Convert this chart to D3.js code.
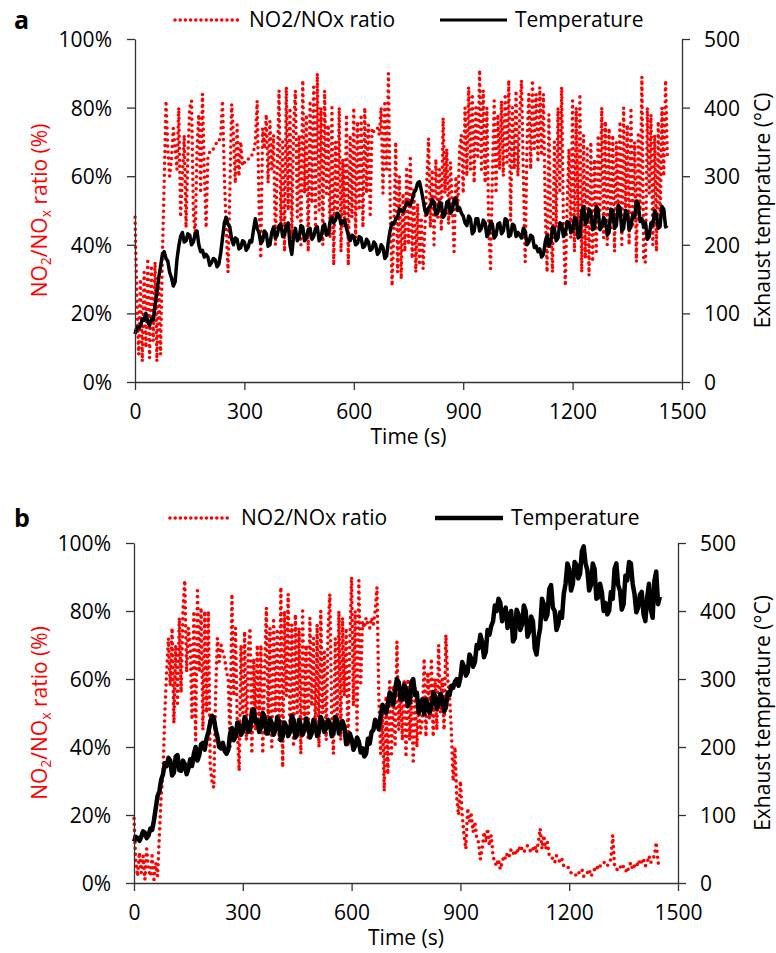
<!DOCTYPE html>
<html>
<head>
<meta charset="utf-8">
<script src="https://cdn.jsdelivr.net/npm/d3@7"></script>
<style>
  body { margin: 0; background: #fff; }
  svg text { font-family: "Open Sans", sans-serif; }
</style>
</head>
<body>
<svg id="chart" width="776" height="953"></svg>
<script>
// both series sampled every 5 s
const STEP = 5;

const timeTicks = [0, 300, 600, 900, 1200, 1500];
const ratioTicks = [0, 20, 40, 60, 80, 100];
const tempTicks = [0, 100, 200, 300, 400, 500];

// panel a: NO2/NOx ratio (%)
const ratioA = [
  48, 25, 8, 30, 6, 32, 10, 36, 7, 34,
  12, 35, 6, 30, 8, 36, 58, 82, 68, 60,
  65, 74, 68, 62, 80, 48, 60, 72, 45, 66,
  80, 82, 50, 42, 68, 78, 55, 84, 62, 45,
  66, 67, 67, 68, 69, 70, 70, 72, 82, 60,
  45, 32, 55, 81, 72, 58, 75, 60, 70, 63,
  64, 64, 65, 65, 66, 67, 70, 82, 52, 36,
  74, 68, 78, 58, 76, 62, 72, 40, 62, 85,
  45, 70, 38, 86, 50, 80, 42, 75, 85, 48,
  72, 40, 88, 55, 78, 38, 82, 52, 86, 45,
  90, 50, 80, 40, 85, 55, 75, 42, 80, 34,
  70, 48, 80, 38, 65, 45, 78, 34, 72, 48,
  80, 42, 76, 50, 78, 45, 80, 55, 75, 48,
  74, 73, 73, 74, 72, 80, 55, 82, 62, 90,
  50, 28, 45, 70, 32, 60, 30, 55, 38, 62,
  40, 66, 36, 56, 32, 52, 34, 48, 33, 45,
  58, 71, 45, 62, 40, 65, 48, 62, 44, 77,
  55, 68, 46, 64, 52, 38, 60, 50, 68, 72,
  55, 80, 60, 86, 62, 84, 58, 80, 65, 91,
  62, 85, 58, 80, 45, 33, 60, 82, 55, 78,
  62, 82, 60, 84, 64, 88, 47, 80, 62, 85,
  60, 78, 88, 60, 35, 70, 84, 62, 88, 68,
  84, 64, 86, 66, 84, 50, 32, 78, 45, 32,
  70, 45, 80, 55, 86, 45, 28, 52, 68, 42,
  82, 38, 80, 45, 84, 32, 72, 36, 68, 31,
  70, 35, 65, 38, 72, 50, 80, 42, 76, 40,
  74, 45, 72, 38, 70, 50, 76, 40, 80, 48,
  75, 40, 80, 45, 70, 35, 72, 50, 89, 35,
  35, 80, 55, 78, 40, 72, 38, 76, 45, 80,
  60, 88, 65
];
// panel a: exhaust temperature (°C)
const tempA = [
  70, 80, 78, 82, 92, 90, 100, 88, 82, 92, 90, 112, 130, 152, 168, 186, 190, 180, 176, 160,
  152, 140, 146, 178, 198, 212, 218, 204, 206, 216, 214, 200, 204, 216, 220, 200, 190, 192, 182, 186,
  182, 170, 174, 180, 178, 168, 172, 188, 210, 232, 240, 230, 226, 208, 200, 210, 208, 194, 196, 206,
  204, 192, 196, 206, 204, 222, 238, 224, 218, 202, 206, 220, 216, 198, 200, 218, 226, 210, 214, 228,
  230, 212, 214, 228, 232, 200, 186, 214, 224, 206, 210, 228, 226, 206, 210, 222, 224, 208, 212, 224,
  226, 206, 210, 226, 230, 214, 216, 234, 240, 232, 236, 246, 242, 230, 234, 236, 224, 214, 206, 214,
  212, 200, 202, 212, 210, 196, 198, 208, 204, 192, 194, 204, 200, 186, 190, 200, 196, 180, 184, 206,
  222, 232, 230, 238, 240, 252, 250, 248, 254, 262, 260, 258, 266, 276, 280, 290, 292, 280, 266, 250,
  244, 254, 256, 266, 262, 244, 246, 262, 260, 240, 244, 262, 264, 246, 250, 266, 268, 250, 254, 246,
  242, 232, 228, 242, 238, 216, 220, 238, 238, 220, 224, 236, 232, 212, 216, 234, 230, 210, 214, 230,
  232, 216, 220, 238, 236, 212, 214, 230, 228, 212, 218, 214, 210, 224, 220, 200, 204, 214, 212, 196,
  198, 190, 194, 182, 186, 204, 214, 198, 204, 226, 224, 206, 210, 232, 230, 212, 216, 234, 232, 218,
  220, 240, 238, 210, 212, 250, 256, 230, 234, 252, 248, 222, 224, 256, 252, 222, 226, 240, 236, 214,
  218, 252, 250, 224, 228, 258, 254, 220, 224, 250, 248, 222, 226, 244, 240, 264, 260, 234, 238, 226,
  232, 208, 212, 232, 228, 250, 244, 224, 228, 256, 252, 226, 228
];

// panel b: NO2/NOx ratio (%)
const ratioB = [
  19, 6, 2, 9, 3, 8, 1, 10, 4, 2,
  8, 1, 6, 2, 14, 26, 32, 50, 62, 72,
  58, 75, 47, 70, 52, 78, 56, 80, 89, 62,
  75, 70, 48, 80, 42, 86, 62, 81, 45, 80,
  50, 80, 35, 30, 28, 55, 72, 65, 70, 68,
  66, 62, 60, 40, 85, 55, 75, 45, 33, 70,
  50, 74, 42, 68, 75, 38, 66, 45, 70, 48,
  70, 38, 62, 81, 46, 75, 40, 78, 50, 74,
  42, 87, 34, 80, 55, 85, 45, 76, 40, 79,
  50, 75, 38, 80, 48, 70, 42, 78, 52, 72,
  45, 76, 40, 80, 50, 68, 42, 74, 85, 50,
  38, 72, 45, 80, 42, 78, 55, 75, 40, 70,
  90, 52, 80, 45, 89, 58, 77, 75, 78, 76,
  75, 78, 76, 80, 87, 55, 38, 50, 27, 55,
  32, 60, 38, 58, 40, 71, 45, 58, 42, 60,
  37, 60, 42, 55, 35, 58, 40, 52, 44, 48,
  66, 43, 62, 48, 66, 43, 60, 45, 70, 50,
  60, 45, 73, 60, 55, 45, 30, 40, 25, 20,
  30, 20, 14, 10, 22, 18, 20, 15, 18, 13,
  12, 7, 10, 15, 12, 16, 11, 14, 8, 6,
  5, 7, 4, 6, 8, 7, 9, 8, 10, 9,
  8, 10, 9, 11, 10, 9, 10, 11, 10, 9,
  10, 11, 9, 12, 16, 10, 14, 10, 12, 8,
  8, 7, 6, 8, 7, 6, 7, 5, 5, 5,
  4, 3, 3, 3, 2, 3, 3, 4, 2, 3,
  3, 4, 2, 3, 4, 5, 4, 5, 5, 6,
  6, 5, 6, 7, 14, 5, 4, 4, 5, 4,
  5, 4, 3, 5, 6, 4, 5, 6, 5, 7,
  6, 7, 5, 6, 8, 6, 7, 8, 12, 6,
  5
];
// panel b: exhaust temperature (°C)
const tempB = [
  61, 68, 66, 62, 68, 76, 74, 66, 70, 80, 78, 92, 110, 128, 135, 152, 160, 176, 172, 184,
  180, 158, 162, 186, 188, 166, 165, 180, 175, 160, 168, 182, 172, 190, 200, 180, 188, 204, 206, 196,
  212, 222, 235, 246, 243, 226, 215, 200, 198, 206, 194, 190, 196, 220, 228, 210, 215, 236, 233, 218,
  222, 244, 238, 222, 225, 252, 255, 236, 240, 222, 228, 250, 245, 220, 220, 242, 235, 218, 225, 244,
  238, 210, 215, 236, 230, 216, 222, 246, 240, 214, 218, 240, 232, 218, 225, 242, 235, 214, 220, 240,
  232, 216, 222, 244, 238, 222, 228, 240, 235, 216, 220, 244, 240, 220, 228, 238, 230, 204, 208, 220,
  212, 196, 202, 214, 208, 192, 198, 186, 190, 212, 205, 222, 225, 240, 235, 226, 245, 262, 255, 250,
  262, 280, 270, 262, 285, 300, 295, 270, 270, 292, 285, 260, 265, 296, 300, 276, 280, 250, 258, 270,
  248, 270, 262, 250, 258, 280, 275, 256, 262, 278, 272, 252, 258, 280, 276, 290, 287, 296, 300, 290,
  302, 325, 318, 305, 310, 336, 330, 318, 325, 350, 345, 365, 355, 332, 340, 372, 365, 378, 385, 408,
  400, 418, 412, 385, 395, 405, 375, 392, 400, 355, 360, 402, 395, 372, 380, 408, 400, 362, 370, 392,
  385, 345, 336, 360, 375, 418, 410, 388, 395, 432, 438, 405, 400, 372, 380, 398, 390, 425, 440, 470,
  462, 430, 440, 472, 468, 448, 455, 488, 495, 470, 460, 430, 438, 470, 462, 418, 420, 440, 428, 400,
  412, 395, 400, 428, 418, 462, 470, 438, 430, 402, 410, 452, 445, 472, 470, 440, 425, 398, 405, 424,
  428, 395, 385, 420, 440, 402, 390, 445, 458, 410, 421
];

const legendLabels = ["NO2/NOx ratio", "Temperature"];

const FONT = 21;
const svg = d3.select("#chart");

function drawPanel(p) {
  const x = d3.scaleLinear().domain([0, 1500]).range([p.left, p.right]);
  const yL = d3.scaleLinear().domain([0, 100]).range([p.bottom, p.top]);
  const yR = d3.scaleLinear().domain([0, 500]).range([p.bottom, p.top]);

  const g = svg.append("g");

  // ratio series, red round dots
  const ratioLine = d3.line()
    .x((d, i) => x(i * STEP))
    .y(d => yL(d));
  g.append("path")
    .datum(p.ratio)
    .attr("d", ratioLine)
    .attr("fill", "none")
    .attr("stroke", "#ff0000")
    .attr("stroke-width", p.dotSize)
    .attr("stroke-linecap", "round")
    .attr("stroke-dasharray", "0 6");

  // temperature series
  const tempLine = d3.line()
    .x((d, i) => x(i * STEP))
    .y(d => yR(d));
  g.append("path")
    .datum(p.temp)
    .attr("d", tempLine)
    .attr("fill", "none")
    .attr("stroke", "#000")
    .attr("stroke-width", p.lineWidth)
    .attr("stroke-linejoin", "round");

  // axes
  const ax = g.append("g")
    .attr("transform", "translate(0," + p.bottom + ")")
    .call(d3.axisBottom(x).tickValues(timeTicks).tickFormat(d3.format("d")).tickSize(8).tickSizeOuter(0).tickPadding(14));
  const al = g.append("g")
    .attr("transform", "translate(" + p.left + ",0)")
    .call(d3.axisLeft(yL).tickValues(ratioTicks).tickFormat(d => d + "%").tickSize(8).tickSizeOuter(0).tickPadding(15));
  const ar = g.append("g")
    .attr("transform", "translate(" + p.right + ",0)")
    .call(d3.axisRight(yR).tickValues(tempTicks).tickSize(8).tickSizeOuter(0).tickPadding(14));

  [ax, al, ar].forEach(a => {
    a.selectAll("text").attr("font-size", FONT).attr("fill", "#000").style("font-family", "'Open Sans', sans-serif");
    a.selectAll("line, path").attr("stroke", "#333").attr("stroke-width", 1.3);
  });
  al.selectAll(".tick text").attr("dy", "0.36em");
  ar.selectAll(".tick text").attr("dy", "0.36em");

  // axis titles
  g.append("text")
    .attr("x", (p.left + p.right) / 2)
    .attr("y", p.bottom + 62)
    .attr("text-anchor", "middle")
    .attr("font-size", FONT)
    .text("Time (s)");

  const lt = g.append("text")
    .attr("transform", "translate(47," + ((p.top + p.bottom) / 2) + ") rotate(-90)")
    .attr("text-anchor", "middle")
    .attr("font-size", FONT)
    .attr("fill", "#ff0000");
  lt.append("tspan").text("NO");
  lt.append("tspan").attr("font-size", 14).attr("dy", 4).text("2");
  lt.append("tspan").attr("dy", -4).text("/NO");
  lt.append("tspan").attr("font-size", 14).attr("dy", 4).text("x");
  lt.append("tspan").attr("dy", -4).text(" ratio (%)");

  g.append("text")
    .attr("transform", "translate(770," + ((p.top + p.bottom) / 2) + ") rotate(-90)")
    .attr("text-anchor", "middle")
    .attr("font-size", FONT)
    .text("Exhaust temprature (°C)");

  // panel letter
  g.append("text")
    .attr("x", 14)
    .attr("y", p.legendY + 9)
    .attr("font-size", 25)
    .attr("font-weight", "bold")
    .text(p.letter);

  // legend
  g.append("line")
    .attr("x1", p.leg1[0]).attr("x2", p.leg1[1])
    .attr("y1", p.legendY).attr("y2", p.legendY)
    .attr("stroke", "#ff0000")
    .attr("stroke-width", p.dotSize)
    .attr("stroke-linecap", "round")
    .attr("stroke-dasharray", "0 5.2");
  g.append("text")
    .attr("x", p.leg1[1] + 11).attr("y", p.legendY + 7)
    .attr("font-size", FONT)
    .text(legendLabels[0]);
  g.append("line")
    .attr("x1", p.leg2[0]).attr("x2", p.leg2[1])
    .attr("y1", p.legendY).attr("y2", p.legendY)
    .attr("stroke", "#000")
    .attr("stroke-width", p.legendWidth);
  g.append("text")
    .attr("x", p.leg2[1] + 8).attr("y", p.legendY + 7)
    .attr("font-size", FONT)
    .text(legendLabels[1]);
}

drawPanel({
  letter: "a", ratio: ratioA, temp: tempA,
  left: 135, right: 682, top: 39, bottom: 382,
  legendY: 20, leg1: [175, 238], leg2: [440, 507],
  dotSize: 3.5, lineWidth: 3.5, legendWidth: 3
});

drawPanel({
  letter: "b", ratio: ratioB, temp: tempB,
  left: 134, right: 678, top: 543, bottom: 883,
  legendY: 518, leg1: [170, 230], leg2: [435, 503],
  dotSize: 3.6, lineWidth: 4.5, legendWidth: 4.5
});
</script>
</body>
</html>
